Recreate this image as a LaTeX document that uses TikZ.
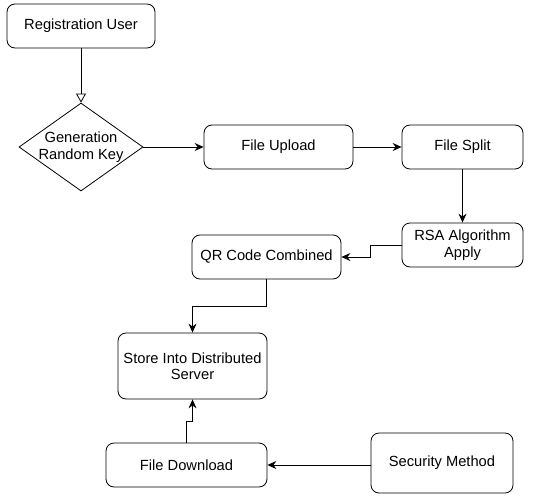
\documentclass[tikz,border=0pt]{standalone}
\usepackage{fontspec}
\setmainfont{Liberation Sans}
\usetikzlibrary{shapes,arrows,positioning,calc,arrows.meta}

\begin{document}
\begin{tikzpicture}[x=1pt,y=-1pt,
    box/.style={draw, rounded corners=8pt, align=center, inner sep=2pt,
        minimum height=44pt, line width=0.8pt,
        font=\fontsize{14.7}{16.5}\selectfont},
    decision/.style={draw, diamond, aspect=1.41, inner sep=-6pt, align=center,
        minimum width=124pt, minimum height=88pt, line width=0.8pt,
        font=\fontsize{14.7}{16.5}\selectfont},
    arrow/.style={-{Stealth[length=9pt,width=8pt,inset=3pt]}, line width=0.8pt},
    openarrow/.style={-{Triangle[open,length=9pt,width=10pt]}, line width=0.8pt}]
    \useasboundingbox (0,0) rectangle (556,495);

    % Nodes
    \node[box, minimum width=148pt] (reg) at (81,26) {Registration User};
    \node[decision] (key) at (81,147) {Generation\\Random Key};
    \node[box, minimum width=149pt] (upload) at (278.5,147) {File Upload};
    \node[box, minimum width=121pt] (split) at (462.5,147) {File Split};
    \node[box, minimum width=121pt] (rsa) at (462.5,245) {RSA Algorithm\\Apply};
    \node[box, minimum width=149pt] (qr) at (266.5,257) {QR Code Combined};
    \node[box, minimum width=149pt, minimum height=66pt] (store) at (192.5,366) {Store Into Distributed\\Server};
    \node[box, minimum width=161pt] (dl) at (186.5,465) {File Download};
    \node[box, minimum width=142pt, minimum height=60pt] (sec) at (442,463) {Security Method};

    % Connectors
    \draw[openarrow] (reg) -- (key);
    \draw[arrow] (key) -- (upload);
    \draw[arrow] (upload) -- (split);
    \draw[arrow] (split) -- (rsa);
    \draw[arrow] (rsa.west) -- ++(-31,0) |- (qr.east);
    \draw[arrow] (qr.south) -- ++(0,27) -| (store.north);
    \draw[arrow] (dl.north) -- ++(0,-21) -| (store.south);
    \draw[arrow] (sec.west |- dl.east) -- (dl.east);
\end{tikzpicture}
\end{document}
